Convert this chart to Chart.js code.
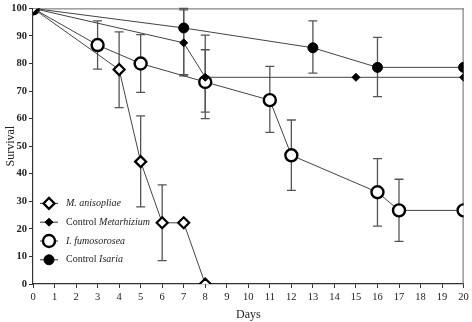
<!DOCTYPE html>
<html>
<head>
<meta charset="utf-8">
<script src="https://cdn.jsdelivr.net/npm/chart.js@4.4.0/dist/chart.umd.min.js"></script>
<style>
  html, body { margin: 0; padding: 0; background: #fff; }
  #wrap { width: 472px; height: 322px; }
</style>
</head>
<body>
<div id="wrap"><canvas id="grafico"></canvas></div>
<script>
// datos
const xTicks = [0,1,2,3,4,5,6,7,8,9,10,11,12,13,14,15,16,17,18,19,20];
const yTicks = [0,10,20,30,40,50,60,70,80,90,100];

const anisDays = [0, 4, 5, 6, 7, 8];
const anisVals = [100, 77.8, 44.4, 22.2, 22.2, 0];
const anisLow  = [null, 64, 28, 8.5, null, null];
const anisHigh = [null, 91.5, 61, 36, null, null];

const ctrlMetDays = [0, 7, 8, 15, 20];
const ctrlMetVals = [100, 87.5, 75, 75, 75];
const ctrlMetLow  = [null, 75.5, 62.4, null, null];
const ctrlMetHigh = [null, 99.5, 90.3, null, null];

const fumDays = [0, 3, 5, 8, 11, 12, 16, 17, 20];
const fumVals = [100, 86.7, 80, 73.3, 66.7, 46.7, 33.3, 26.7, 26.7];
const fumLow  = [null, 78, 69.5, 60, 55, 34, 21, 15.5, null];
const fumHigh = [null, 95.5, 90.5, 85, 79, 59.5, 45.5, 38, null];

const ctrlIsaDays = [0, 7, 13, 16, 20];
const ctrlIsaVals = [100, 92.9, 85.7, 78.6, 78.6];
const ctrlIsaLow  = [null, 76, 76.5, 68, null];
const ctrlIsaHigh = [null, 100, 95.5, 89.5, null];

function pts(d, v){ return d.map((x, i) => ({x: x, y: v[i]})); }

const serif = '"Liberation Serif", "DejaVu Serif", serif';

const series = [
  {label: 'M. anisopliae', parts: [['M. anisopliae', true]], days: anisDays, vals: anisVals, low: anisLow, high: anisHigh,
   style: 'rectRot', radius: 5.5, fill: '#fff', bw: 2.2},
  {label: 'Control Metarhizium', parts: [['Control ', false], ['Metarhizium', true]], days: ctrlMetDays, vals: ctrlMetVals, low: ctrlMetLow, high: ctrlMetHigh,
   style: 'rectRot', radius: 4, fill: '#000', bw: 1},
  {label: 'I. fumosorosea', parts: [['I. fumosorosea', true]], days: fumDays, vals: fumVals, low: fumLow, high: fumHigh,
   style: 'circle', radius: 6, fill: '#fff', bw: 2.4},
  {label: 'Control Isaria', parts: [['Control ', false], ['Isaria', true]], days: ctrlIsaDays, vals: ctrlIsaVals, low: ctrlIsaLow, high: ctrlIsaHigh,
   style: 'circle', radius: 5, fill: '#000', bw: 1}
];

const barrasError = {
  id: 'barrasError',
  beforeDatasetsDraw(chart){
    const {ctx, scales: {x, y}} = chart;
    ctx.save();
    ctx.strokeStyle = '#555';
    ctx.lineWidth = 1.3;
    series.forEach(s => {
      s.days.forEach((d, i) => {
        if (s.low[i] == null) return;
        const px = x.getPixelForValue(d);
        const y1 = y.getPixelForValue(s.low[i]);
        const y2 = y.getPixelForValue(s.high[i]);
        ctx.beginPath();
        ctx.moveTo(px, y1); ctx.lineTo(px, y2);
        ctx.moveTo(px - 4.5, y1); ctx.lineTo(px + 4.5, y1);
        ctx.moveTo(px - 4.5, y2); ctx.lineTo(px + 4.5, y2);
        ctx.stroke();
      });
    });
    ctx.restore();
  }
};

const marco = {
  id: 'marco',
  beforeDatasetsDraw(chart){
    const {ctx, chartArea: {top, right, left, bottom}} = chart;
    ctx.save();
    ctx.strokeStyle = '#666';
    ctx.lineWidth = 1;
    ctx.beginPath();
    ctx.moveTo(left, top + 0.5); ctx.lineTo(right, top + 0.5);
    ctx.moveTo(right - 0.5, top); ctx.lineTo(right - 0.5, bottom);
    ctx.stroke();
    ctx.restore();
  }
};

const leyenda = {
  id: 'leyenda',
  afterDraw(chart){
    const {ctx, chartArea: {left, top}} = chart;
    ctx.save();
    series.forEach((s, i) => {
      const cy = top + 195 + i * 18.8;
      const x0 = left + 7;
      ctx.strokeStyle = '#333';
      ctx.lineWidth = 1;
      ctx.beginPath();
      ctx.moveTo(x0, cy); ctx.lineTo(x0 + 18, cy);
      ctx.stroke();
      ctx.fillStyle = s.fill;
      ctx.strokeStyle = '#000';
      ctx.lineWidth = s.bw;
      ctx.beginPath();
      if (s.style === 'circle') {
        ctx.arc(x0 + 9, cy, s.radius, 0, Math.PI * 2);
      } else {
        const r = s.radius;
        ctx.moveTo(x0 + 9, cy - r); ctx.lineTo(x0 + 9 + r, cy);
        ctx.lineTo(x0 + 9, cy + r); ctx.lineTo(x0 + 9 - r, cy);
        ctx.closePath();
      }
      ctx.fill(); ctx.stroke();
      let tx = x0 + 26;
      ctx.fillStyle = '#222';
      ctx.textBaseline = 'middle';
      s.parts.forEach(p => {
        ctx.font = (p[1] ? 'italic ' : '') + '10px ' + serif;
        ctx.fillText(p[0], tx, cy);
        tx += ctx.measureText(p[0]).width;
      });
    });
    ctx.restore();
  }
};

const ctx = document.getElementById('grafico').getContext('2d');
new Chart(ctx, {
  type: 'line',
  data: {
    datasets: series.map(s => ({
      label: s.label,
      data: pts(s.days, s.vals),
      borderColor: '#444',
      borderWidth: 1,
      pointStyle: s.style,
      pointRadius: s.radius,
      pointBackgroundColor: s.fill,
      pointBorderColor: '#000',
      pointBorderWidth: s.bw,
      tension: 0,
      fill: false
    }))
  },
  options: {
    responsive: true,
    maintainAspectRatio: false,
    animation: { duration: 0 },
    events: [],
    layout: { padding: { top: 5, right: 8, left: 0, bottom: 0 } },
    plugins: { legend: { display: false }, tooltip: { enabled: false } },
    scales: {
      x: {
        type: 'linear',
        min: 0, max: 20,
        afterBuildTicks: s => { s.ticks = xTicks.map(v => ({value: v})); },
        afterFit: s => { s.height = 38; },
        grid: { drawOnChartArea: false, drawTicks: true, tickLength: 4, color: '#333' },
        border: { display: true, color: '#333', width: 1.2 },
        ticks: { color: '#222', padding: 3, maxRotation: 0, font: { family: serif, size: 10.5 } },
        title: { display: true, text: 'Days', color: '#222', padding: { top: 5, bottom: 0 }, font: { family: serif, size: 12 } }
      },
      y: {
        min: 0, max: 100,
        afterBuildTicks: s => { s.ticks = yTicks.map(v => ({value: v})); },
        afterFit: s => { s.width = 33; },
        grid: { drawOnChartArea: false, drawTicks: true, tickLength: 4, color: '#333' },
        border: { display: true, color: '#333', width: 1.2 },
        ticks: { color: '#222', padding: 2, font: { family: serif, size: 10.5, weight: 'bold' } },
        title: { display: true, text: 'Survival', color: '#222', padding: { top: 4, bottom: 0 }, font: { family: serif, size: 12 } }
      }
    }
  },
  plugins: [marco, barrasError, leyenda]
});
</script>
</body>
</html>
